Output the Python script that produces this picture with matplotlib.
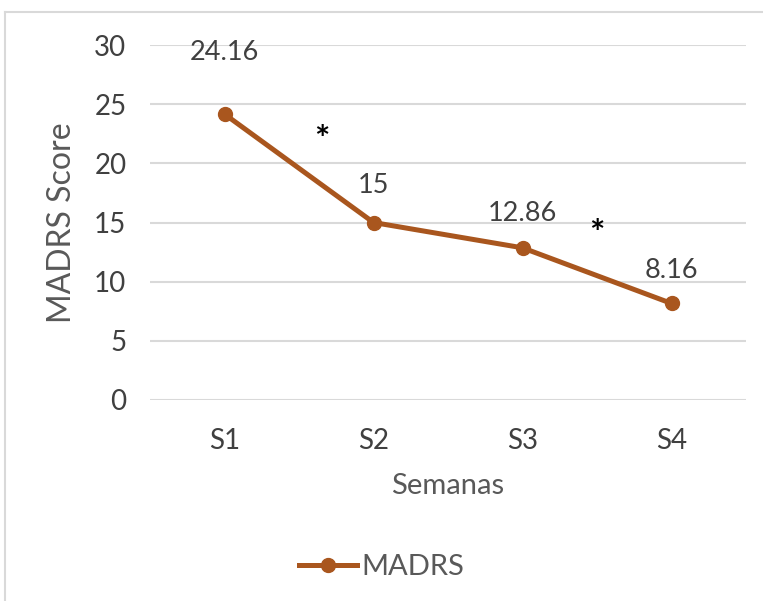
import matplotlib
matplotlib.use('Agg')
from matplotlib import pyplot as plt
from matplotlib.lines import Line2D

semanas = ['S1', 'S2', 'S3', 'S4']
madrs = [24.16, 15, 12.86, 8.16]
labels = ['24.16', '15', '12.86', '8.16']
# asterisks between weeks (data coords)
star_x = [0.65, 2.50]
star_y = [21.9, 14.0]

plt.rcParams['font.family'] = ['Lato', 'DejaVu Sans']

color = '#A9561E'
fig = plt.figure(figsize=(7.63, 6.01), dpi=100)
ax = fig.add_axes([150/763, 1 - 400/601, 596/763, 355/601])

x = list(range(len(semanas)))
ax.plot(x, madrs, color=color, lw=3.6, marker='o', markersize=10, label='MADRS',
        solid_capstyle='round', zorder=3)

# data labels (the first one was moved higher)
offsets = [62, 37, 34, 33]
for i, v in enumerate(madrs):
    ax.annotate(labels[i], (i, v), xytext=(0, offsets[i]), textcoords='offset pixels',
                ha='center', va='center', fontsize=19.5, color='#404040')

for sx, sy in zip(star_x, star_y):
    ax.text(sx, sy, '*', ha='center', va='center', fontsize=26, fontweight='bold',
            color='black')

ax.set_xlim(-0.5, 3.5)
ax.set_ylim(0, 30)
ax.set_yticks(range(0, 31, 5))
ax.set_xticks(x)
ax.set_xticklabels(semanas)
ax.tick_params(axis='both', length=0, labelsize=20, labelcolor='#404040')
ax.tick_params(axis='y', pad=17)
ax.tick_params(axis='x', pad=20)
ax.grid(axis='y', color='#D9D9D9', lw=1.5)
ax.set_axisbelow(True)
for s in ax.spines.values():
    s.set_visible(False)

ax.set_xlabel('Semanas', fontsize=21, color='#595959', labelpad=14)
ax.set_ylabel('MADRS Score', fontsize=23, color='#595959', labelpad=12)

handle = Line2D([0], [0], color=color, lw=3.6, marker='o', markersize=10)
fig.legend([handle], ['MADRS'], loc='center', bbox_to_anchor=(0.5, 1 - 567/601),
           frameon=False, fontsize=21, labelcolor='#595959', handlelength=2.0,
           handletextpad=0.15)

# chart area border (cropped at right/bottom)
fig.add_artist(Line2D([5/763, 1], [1 - 12/601, 1 - 12/601], color='#D9D9D9', lw=1.5,
                      transform=fig.transFigure))
fig.add_artist(Line2D([5/763, 5/763], [0, 1 - 12/601], color='#D9D9D9', lw=1.5,
                      transform=fig.transFigure))

fig.savefig('out.png', dpi=100)
